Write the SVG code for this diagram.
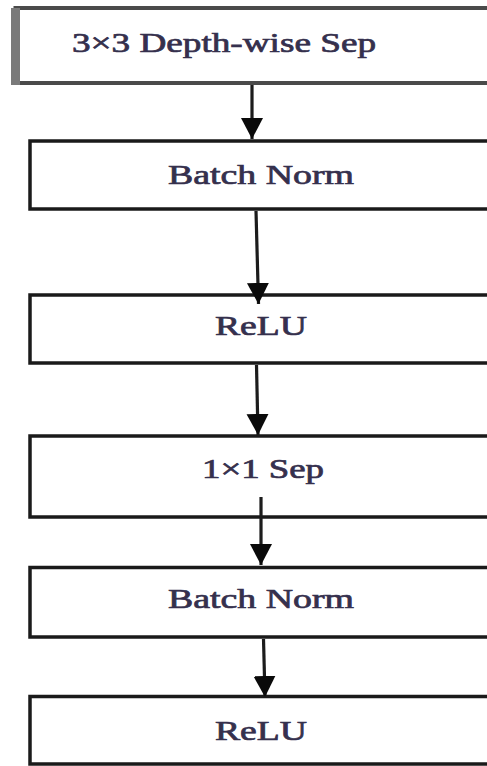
<svg xmlns="http://www.w3.org/2000/svg" width="487" height="766" viewBox="0 0 487 766">
  <style>
    .box { fill: #ffffff; stroke: #1a1a1a; stroke-width: 3.5; }
    .label { font-family: "Liberation Serif", "Times New Roman", serif; font-size: 27px; fill: #35304d; stroke: #35304d; stroke-width: 0.7; }
    .edge { stroke: #1c1c1c; stroke-width: 3.2; fill: none; marker-end: url(#arrow); }
  </style>
  <defs>
    <marker id="arrow" markerUnits="userSpaceOnUse" viewBox="0 -12 22 24" refX="21" refY="0" markerWidth="22" markerHeight="24" orient="auto">
      <path d="M0,-11 L21,0 L0,11 z" fill="#0a0a0a"/>
    </marker>
  </defs>

  <rect width="487" height="766" fill="#ffffff"/>

  <!-- layer stack, top to bottom; boxes run off the right edge -->
  <g id="node-depthwise">
    <rect class="box" x="15.5" y="8" width="490" height="75" style="stroke:#4a4a4a;stroke-width:4"/>
    <rect x="11" y="8" width="9" height="77" fill="#7a7a7a"/>
    <text class="label" x="72" y="52" textLength="304" lengthAdjust="spacingAndGlyphs">3×3 Depth-wise Sep</text>
  </g>

  <g id="node-bn1">
    <rect class="box" x="30" y="141" width="480" height="68"/>
    <text class="label" x="168" y="184" textLength="186" lengthAdjust="spacingAndGlyphs">Batch Norm</text>
  </g>

  <g id="node-relu1">
    <rect class="box" x="30" y="295" width="480" height="68"/>
    <text class="label" x="215" y="335" textLength="92" lengthAdjust="spacingAndGlyphs">ReLU</text>
  </g>

  <g id="node-pointwise">
    <rect class="box" x="30" y="436" width="480" height="81"/>
    <text class="label" x="202" y="478" textLength="122" lengthAdjust="spacingAndGlyphs">1×1 Sep</text>
  </g>

  <g id="node-bn2">
    <rect class="box" x="30" y="567.5" width="480" height="69.5"/>
    <text class="label" x="168" y="608" textLength="186" lengthAdjust="spacingAndGlyphs">Batch Norm</text>
  </g>

  <g id="node-relu2">
    <rect class="box" x="30" y="696.5" width="480" height="67.5"/>
    <text class="label" x="215" y="740" textLength="92" lengthAdjust="spacingAndGlyphs">ReLU</text>
  </g>

  <g id="connectors">
    <line class="edge" x1="252" y1="85" x2="252" y2="139"/>
    <line class="edge" x1="256" y1="211" x2="258.5" y2="304"/>
    <line class="edge" x1="256.5" y1="365" x2="258" y2="435"/>
    <line class="edge" x1="261" y1="497" x2="261" y2="565"/>
    <line class="edge" x1="263.5" y1="639" x2="265" y2="697"/>
  </g>
</svg>
